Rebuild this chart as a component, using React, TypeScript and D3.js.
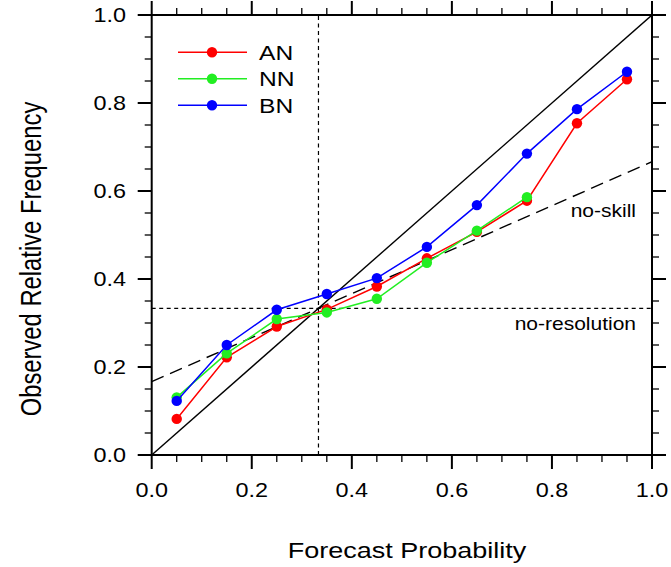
import React from "react";
import * as d3 from "d3";

const forecastProb = [0.05, 0.15, 0.25, 0.35, 0.45, 0.55, 0.65, 0.75, 0.85, 0.95];
const anValues = [0.082, 0.222, 0.292, 0.331, 0.383, 0.447, 0.507, 0.578, 0.754, 0.854];
const nnValues = [0.131, 0.231, 0.309, 0.324, 0.355, 0.437, 0.51, 0.586];
const bnValues = [0.123, 0.25, 0.33, 0.366, 0.402, 0.473, 0.568, 0.685, 0.786, 0.871];
const seriesNames = ["AN", "NN", "BN"];
const seriesColors = ["#ff0000", "#22ee22", "#0000ff"];
const climatology = 1 / 3;
const tickLabels = ["0.0", "0.2", "0.4", "0.6", "0.8", "1.0"];

const W = 671;
const H = 567;
const L = 151.7, R = 652, T = 15, B = 455;
const SX = 1.2;
const FONT = "'Liberation Sans', Arial, Helvetica, sans-serif";

export default function App() {
  const x = d3.scaleLinear().domain([0, 1]).range([L, R]);
  const y = d3.scaleLinear().domain([0, 1]).range([B, T]);
  const majors = d3.range(0, 1.0001, 0.2);
  const minors = d3.range(0, 1.0001, 0.05).filter((v) => Math.abs(v * 5 - Math.round(v * 5)) > 1e-6);
  const series = [anValues, nnValues, bnValues];
  const line = d3
    .line<number>()
    .x((_, i) => x(forecastProb[i]))
    .y((d) => y(d));
  const majLen = 14, minLen = 7;

  const stretchText = (
    tx: number,
    ty: number,
    str: string,
    size: number,
    anchor: string,
    extra: string = "",
    key?: any
  ) => (
    <text
      key={key}
      transform={`translate(${tx},${ty}) scale(${SX},1) ${extra}`}
      fontSize={size}
      fontFamily={FONT}
      textAnchor={anchor}
      fill="#000"
    >
      {str}
    </text>
  );

  return (
    <svg
      width={W}
      height={H}
      style={{ position: "fixed", left: 0, top: 0, background: "#fff" }}
    >
      <defs>
        <clipPath id="plotclip">
          <rect x={L} y={T} width={R - L} height={B - T} />
        </clipPath>
      </defs>
      <rect x={0} y={0} width={W} height={H} fill="#fff" />
      <g clipPath="url(#plotclip)">
        <line x1={x(0)} y1={y(0)} x2={x(1)} y2={y(1)} stroke="#000" strokeWidth={1.4} />
        <line
          x1={x(0)}
          y1={y(climatology / 2)}
          x2={x(1)}
          y2={y((1 + climatology) / 2)}
          stroke="#000"
          strokeWidth={1.4}
          strokeDasharray="13 7"
        />
        <line x1={x(0)} y1={y(climatology)} x2={x(1)} y2={y(climatology)} stroke="#000" strokeWidth={1.2} strokeDasharray="4 3.5" />
        <line x1={x(climatology)} y1={y(0)} x2={x(climatology)} y2={y(1)} stroke="#000" strokeWidth={1.2} strokeDasharray="4 3.5" />
        {series.map((vals, si) => (
          <g key={si}>
            <path d={line(vals) || ""} fill="none" stroke={seriesColors[si]} strokeWidth={1.5} />
            {vals.map((v, i) => (
              <circle key={i} cx={x(forecastProb[i])} cy={y(v)} r={5.2} fill={seriesColors[si]} />
            ))}
          </g>
        ))}
      </g>
      {stretchText(636, 217, "no-skill", 17.5, "end")}
      {stretchText(636, 330, "no-resolution", 17.5, "end")}

      {seriesNames.map((n, i) => {
        const ly = 52.3 + i * 26.5;
        return (
          <g key={n}>
            <line x1={178} y1={ly} x2={247} y2={ly} stroke={seriesColors[i]} strokeWidth={1.5} />
            <circle cx={212} cy={ly} r={5.2} fill={seriesColors[i]} />
            {stretchText(259, ly + 7.5, n, 20.5, "start")}
          </g>
        );
      })}

      <rect x={L} y={T} width={R - L} height={B - T} fill="none" stroke="#000" strokeWidth={2} />
      {majors.map((v, i) => (
        <g key={"M" + i}>
          <line x1={x(v)} y1={B} x2={x(v)} y2={B + majLen} stroke="#000" strokeWidth={2} />
          <line x1={x(v)} y1={T} x2={x(v)} y2={T - majLen} stroke="#000" strokeWidth={2} />
          <line x1={L} y1={y(v)} x2={L - majLen} y2={y(v)} stroke="#000" strokeWidth={2} />
          <line x1={R} y1={y(v)} x2={R + majLen} y2={y(v)} stroke="#000" strokeWidth={2} />
        </g>
      ))}
      {minors.map((v, i) => (
        <g key={"m" + i}>
          <line x1={x(v)} y1={B} x2={x(v)} y2={B + minLen} stroke="#000" strokeWidth={1.3} />
          <line x1={x(v)} y1={T} x2={x(v)} y2={T - minLen} stroke="#000" strokeWidth={1.3} />
          <line x1={L} y1={y(v)} x2={L - minLen} y2={y(v)} stroke="#000" strokeWidth={1.3} />
          <line x1={R} y1={y(v)} x2={R + minLen} y2={y(v)} stroke="#000" strokeWidth={1.3} />
        </g>
      ))}
      {majors.map((v, i) => stretchText(x(v), 497, tickLabels[i], 19.5, "middle", "", "xl" + i))}
      {majors.map((v, i) => stretchText(126, y(v) + 7, tickLabels[i], 19.5, "end", "", "yl" + i))}
      {stretchText(407, 558, "Forecast Probability", 22.5, "middle")}
      <text
        transform={`translate(41,259) rotate(-90) scale(1,${SX})`}
        fontSize={23.8}
        fontFamily={FONT}
        textAnchor="middle"
        fill="#000"
      >
        Observed Relative Frequency
      </text>
    </svg>
  );
}
